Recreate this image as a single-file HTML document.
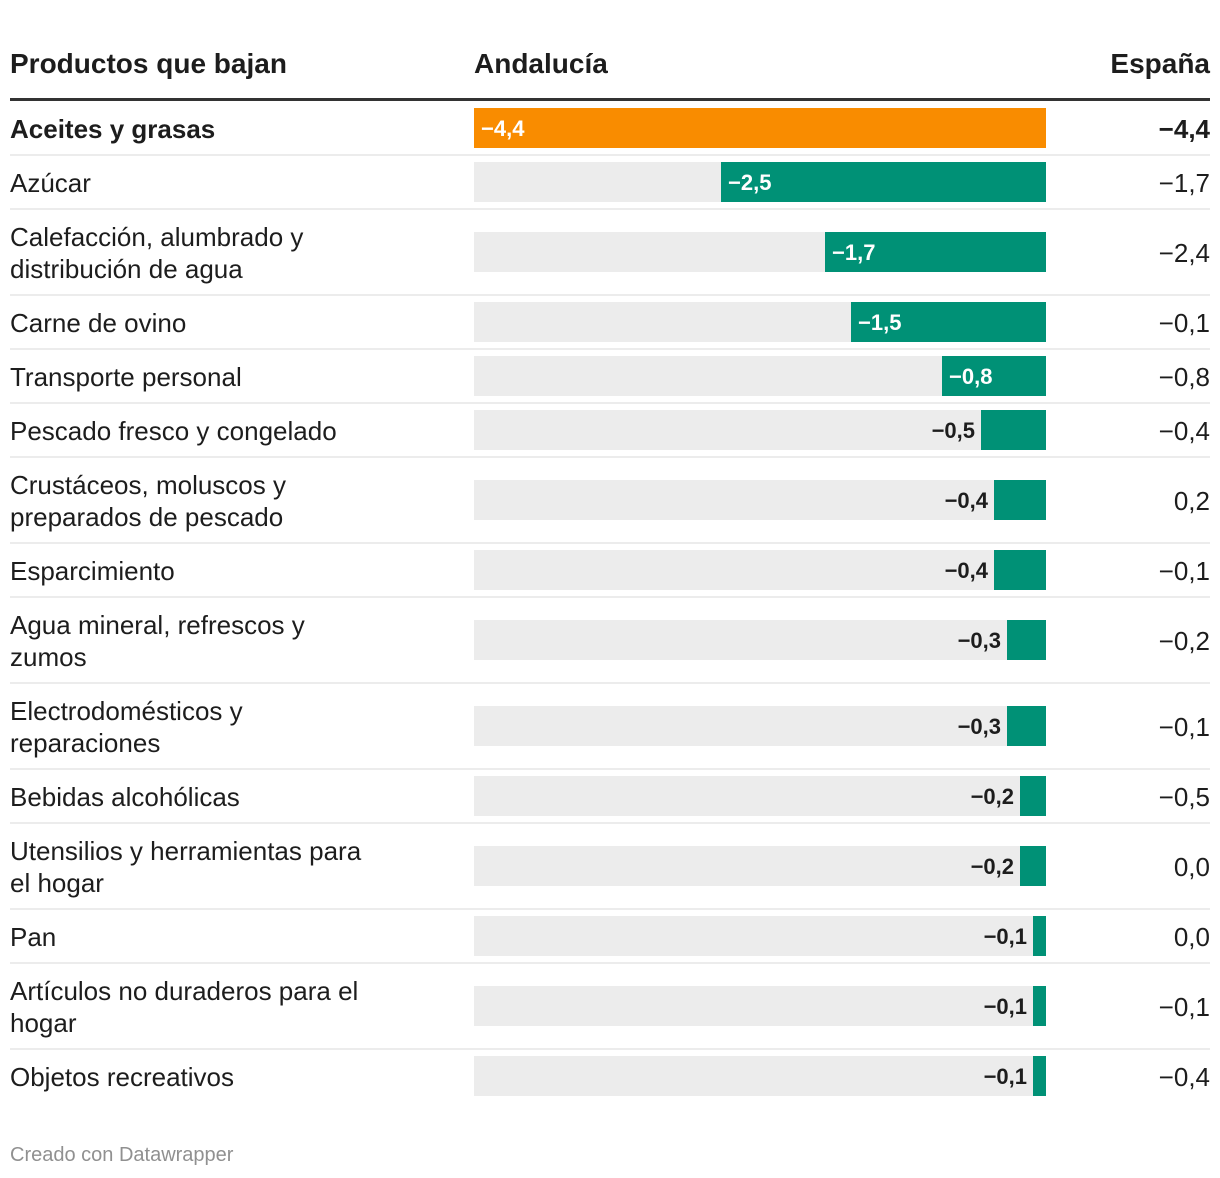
<!DOCTYPE html>
<html><head><meta charset="utf-8">
<style>
body{margin:0;background:#fff;width:1220px;height:1178px;overflow:hidden;font-family:"Liberation Sans",Arial,sans-serif;color:#1d1d1d;position:relative}
.h{position:absolute;top:46px;font-weight:bold;font-size:28px;line-height:36px;color:#1d1d1d}
#hline{position:absolute;left:10px;top:98px;width:1200px;height:3px;background:#333}
#rows{position:absolute;left:10px;top:102px;width:1200px}
.row{position:relative;border-bottom:2px solid #ececec;padding:11px 0 9px 0}
.row:last-child{border-bottom:2px solid transparent}
.lab{font-size:26px;line-height:32px;white-space:nowrap}
.bg{position:absolute;left:464px;width:572px;height:40px;background:#ececec}
.bar{position:absolute;height:40px}
.val{position:absolute;font-size:22px;font-weight:bold;line-height:42px;white-space:nowrap}
.es{position:absolute;right:0;font-size:26px;line-height:42px}
#foot{position:absolute;left:10px;top:1144px;font-size:20px;color:#909090}
</style></head><body>
<div class="h" style="left:10px">Productos que bajan</div>
<div class="h" style="left:474px">Andalucía</div>
<div class="h" style="right:10px">España</div>
<div id="hline"></div>
<div id="rows"></div>
<div id="foot">Creado con Datawrapper</div>
<script>
const categories=["Aceites y grasas","Azúcar","Calefacción, alumbrado y|distribución de agua","Carne de ovino","Transporte personal","Pescado fresco y congelado","Crustáceos, moluscos y|preparados de pescado","Esparcimiento","Agua mineral, refrescos y|zumos","Electrodomésticos y|reparaciones","Bebidas alcohólicas","Utensilios y herramientas para|el hogar","Pan","Artículos no duraderos para el|hogar","Objetos recreativos"];
const andalucia=[-4.4,-2.5,-1.7,-1.5,-0.8,-0.5,-0.4,-0.4,-0.3,-0.3,-0.2,-0.2,-0.1,-0.1,-0.1];
const espana=[-4.4,-1.7,-2.4,-0.1,-0.8,-0.4,0.2,-0.1,-0.2,-0.1,-0.5,0.0,0.0,-0.1,-0.4];
const maxAbs=4.4, barLeft=464, barW=572;
function xw(v){return Math.abs(v)/maxAbs*barW;}
function fmt(v){let s=Math.abs(v).toFixed(1).replace('.',',');return (v<0?'−':'')+s;}
const rows=document.getElementById('rows');
categories.forEach((c,i)=>{
  const r=document.createElement('div');r.className='row';
  
  
  const l=document.createElement('div');l.className='lab';
  
  
  l.innerHTML=c.split('|').join('<br>');
  if(i===0)l.style.fontWeight='bold';
  r.appendChild(l);rows.appendChild(r);
  const h=r.offsetHeight-2;const top=(h-40)/2;
  const bg=document.createElement('div');bg.className='bg';bg.style.top=top+'px';
  
  
  r.appendChild(bg);
  const w=xw(andalucia[i]);const bx=barLeft+barW-w;
  const b=document.createElement('div');b.className='bar';
  
  
  b.style.top=top+'px';b.style.left=bx+'px';b.style.width=w+'px';
  b.style.background=i===0?'#f98c00':'#009176';
  r.appendChild(b);
  const t=document.createElement('div');t.className='val';
  
  
  t.textContent=fmt(andalucia[i]);t.style.top=top+'px';
  if(w>90){t.style.left=(bx+7)+'px';t.style.color='#fff';}
  else{t.style.right=(1200-bx+6)+'px';t.style.color='#1d1d1d';}
  r.appendChild(t);
  const e=document.createElement('div');e.className='es';
  
  
  e.textContent=fmt(espana[i]);e.style.top=top+'px';
  if(i===0)e.style.fontWeight='bold';
  r.appendChild(e);
});
</script>
</body></html>
